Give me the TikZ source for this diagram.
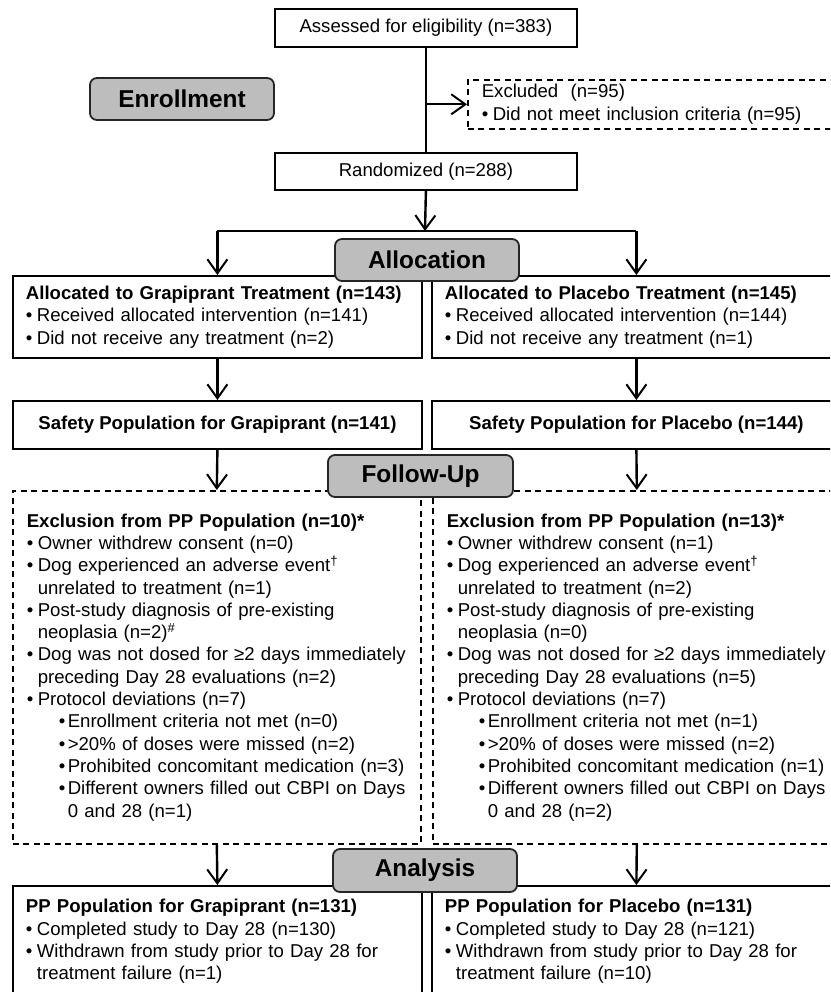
\documentclass[tikz,border=0pt]{standalone}
\usepackage{fontspec}
\setmainfont{Liberation Sans}
\usepackage{xcolor}
\usetikzlibrary{arrows.meta}
\definecolor{fcgray}{gray}{0.74}
\newcommand{\fcfont}{\fontsize{18.6pt}{22.3pt}\selectfont}
\newcommand{\fcitem}{\makebox[11pt][l]{•}}
\newcommand{\fcgap}{\hspace*{11pt}}
\newcommand{\fcsub}{\hspace*{32pt}\makebox[9pt][l]{•}}
\newcommand{\fcsubgap}{\hspace*{41pt}}
\tikzset{
  fcbox/.style={draw=black, line width=1.8pt, inner xsep=13pt, inner ysep=0pt, font=\fcfont, anchor=north west},
  fcmid/.style={fcbox, align=center, inner xsep=0pt},
  fcleft/.style={fcbox, align=left},
  fcdash/.style={fcbox, align=left, inner xsep=14pt, line width=1.6pt, dash pattern=on 6pt off 4.5pt},
  fcphase/.style={draw=black!85, fill=fcgray, line width=1.8pt, rounded corners=7pt, inner sep=0pt,
    minimum width=184pt, minimum height=42pt, font=\fontsize{24.4pt}{28pt}\selectfont\bfseries},
  fcline/.style={line width=2.4pt, draw=black},
  fcarrow/.style={fcline, -{Straight Barb[length=14pt, width=20pt, line width=2pt]}},
}

\begin{document}
\begin{tikzpicture}[x=1pt, y=-1pt]
\useasboundingbox (0,0) rectangle (830,992);
\clip (0,0) rectangle (830,992);
% enrollment
\node[fcmid, minimum width=302pt, minimum height=38pt] (assess) at (274,8) {Assessed for eligibility (n=383)};
\node[fcdash, text width=347pt, minimum height=49pt] (excl) at (467,79)
  {Excluded~~(n=95)\\ \fcitem Did not meet inclusion criteria (n=95)};
\node[fcmid, minimum width=302pt, minimum height=37pt] (rand) at (274,152) {Randomized (n=288)};
% allocation
\node[fcleft, text width=383pt, minimum height=82pt] (grapAlloc) at (12,275)
  {\textbf{Allocated to Grapiprant Treatment (n=143)}\\
   \fcitem Received allocated intervention (n=141)\\
   \fcitem Did not receive any treatment (n=2)};
\node[fcleft, text width=383pt, minimum height=82pt] (placAlloc) at (431,275)
  {\textbf{Allocated to Placebo Treatment (n=145)}\\
   \fcitem Received allocated intervention (n=144)\\
   \fcitem Did not receive any treatment (n=1)};
\node[fcmid, minimum width=409pt, minimum height=48pt, font=\fcfont\bfseries] (grapSafe) at (12,400)
  {Safety Population for Grapiprant (n=141)};
\node[fcmid, minimum width=409pt, minimum height=48pt, font=\fcfont\bfseries] (placSafe) at (431,400)
  {Safety Population for Placebo (n=144)};
% follow-up
\node[fcdash, text width=380pt, minimum height=353pt] (grapExcl) at (12,490)
  {\textbf{Exclusion from PP Population (n=10)*}\\
   \fcitem Owner withdrew consent (n=0)\\
   \fcitem Dog experienced an adverse event\textsuperscript{†}\\
   \fcgap unrelated to treatment (n=1)\\
   \fcitem Post-study diagnosis of pre-existing\\
   \fcgap neoplasia (n=2)\textsuperscript{\#}\\
   \fcitem Dog was not dosed for ≥2 days immediately\\
   \fcgap preceding Day 28 evaluations (n=2)\\
   \fcitem Protocol deviations (n=7)\\
   \fcsub Enrollment criteria not met (n=0)\\
   \fcsub >20\% of doses were missed (n=2)\\
   \fcsub Prohibited concomitant medication (n=3)\\
   \fcsub Different owners filled out CBPI on Days\\
   \fcsubgap 0 and 28 (n=1)};
\node[fcdash, text width=380pt, minimum height=353pt] (placExcl) at (432,490)
  {\textbf{Exclusion from PP Population (n=13)*}\\
   \fcitem Owner withdrew consent (n=1)\\
   \fcitem Dog experienced an adverse event\textsuperscript{†}\\
   \fcgap unrelated to treatment (n=2)\\
   \fcitem Post-study diagnosis of pre-existing\\
   \fcgap neoplasia (n=0)\\
   \fcitem Dog was not dosed for ≥2 days immediately\\
   \fcgap preceding Day 28 evaluations (n=5)\\
   \fcitem Protocol deviations (n=7)\\
   \fcsub Enrollment criteria not met (n=1)\\
   \fcsub >20\% of doses were missed (n=2)\\
   \fcsub Prohibited concomitant medication (n=1)\\
   \fcsub Different owners filled out CBPI on Days\\
   \fcsubgap 0 and 28 (n=2)};
% analysis
\node[fcleft, text width=383pt, minimum height=111pt] (grapPP) at (12,885)
  {\textbf{PP Population for Grapiprant (n=131)}\\
   \fcitem Completed study to Day 28 (n=130)\\
   \fcitem Withdrawn from study prior to Day 28 for\\
   \fcgap treatment failure (n=1)};
\node[fcleft, text width=383pt, minimum height=111pt] (placPP) at (431,885)
  {\textbf{PP Population for Placebo (n=131)}\\
   \fcitem Completed study to Day 28 (n=121)\\
   \fcitem Withdrawn from study prior to Day 28 for\\
   \fcgap treatment failure (n=10)};
% connectors
\coordinate (split) at (425,231);
\draw[fcline] (assess.south) -- (rand.north);
\draw[fcarrow] (assess.south |- excl.west) -- (excl.west);
\draw[fcarrow] (rand.south) -- (split);
\draw[fcline] (split -| grapAlloc.north) -- (split -| placAlloc.north);
\draw[fcarrow] (split -| grapAlloc.north) -- (grapAlloc.north);
\draw[fcarrow] (split -| placAlloc.north) -- (placAlloc.north);
\draw[fcarrow] (grapAlloc.south) -- (grapSafe.north);
\draw[fcarrow] (placAlloc.south) -- (placSafe.north);
\draw[fcarrow] (grapSafe.south) -- (grapExcl.north);
\draw[fcarrow] (placSafe.south) -- (placExcl.north);
\draw[fcarrow] (grapExcl.south) -- (grapPP.north);
\draw[fcarrow] (placExcl.south) -- (placPP.north);
% phase labels
\node[fcphase] (enrol) at (182,99) {Enrollment};
\node[fcphase] (alloc) at (427,260) {Allocation};
\node[fcphase, minimum width=185pt] (followup) at (420.5,476) {Follow-Up};
\node[fcphase, minimum height=43pt] (analysis) at (425,870.5) {Analysis};
\end{tikzpicture}
\end{document}
